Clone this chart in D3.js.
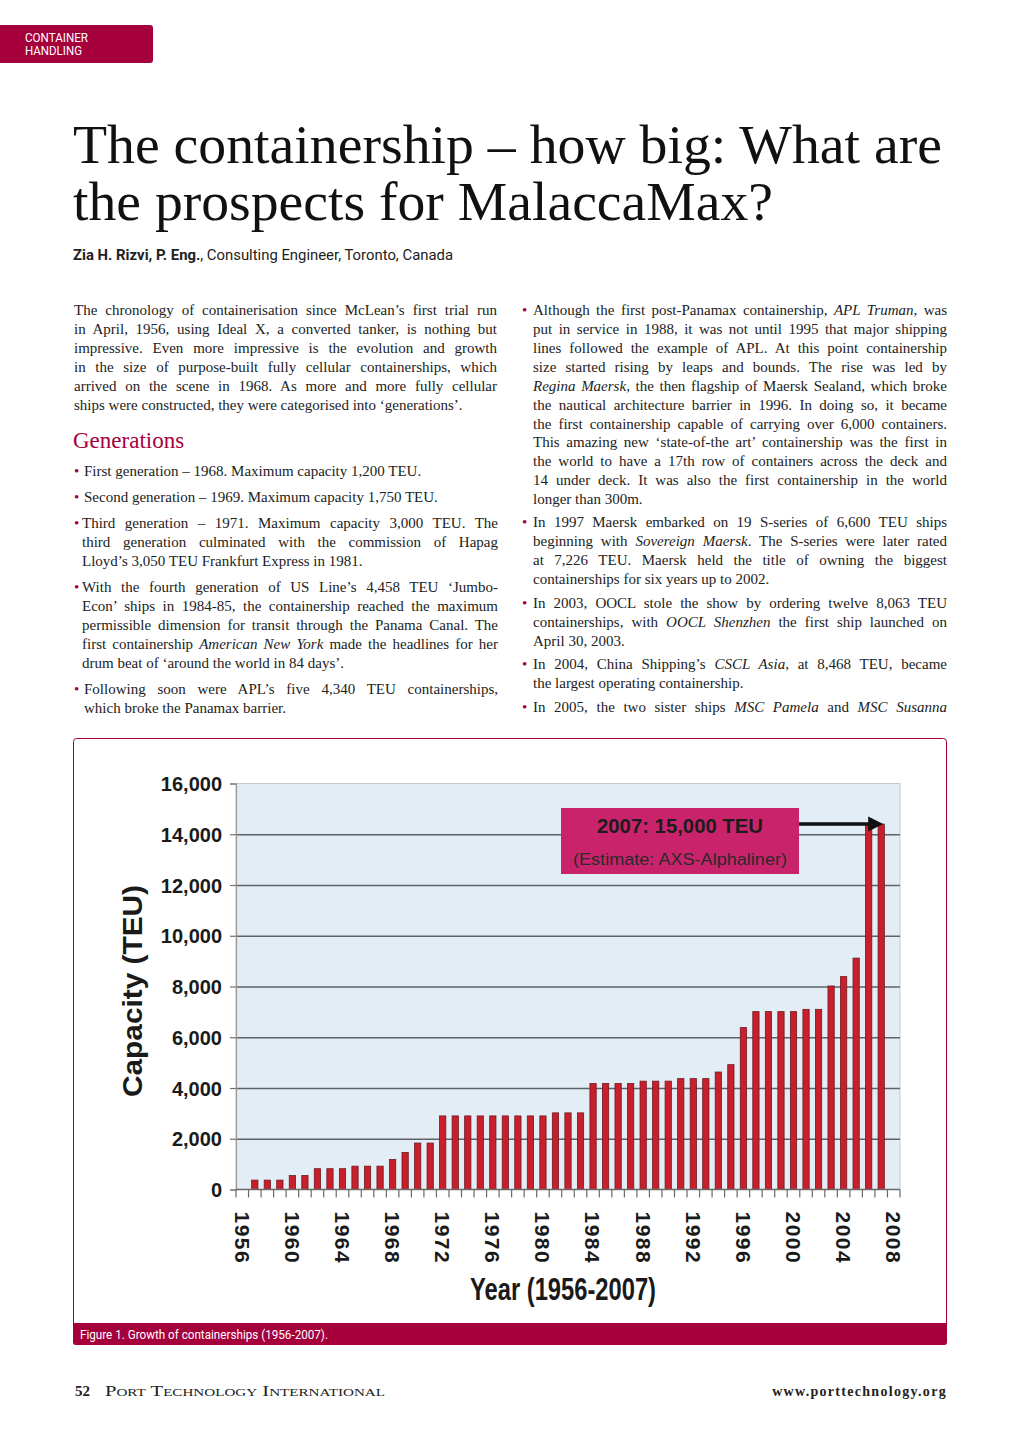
<!DOCTYPE html>
<html lang="en">
    <head>
        <meta charset="utf-8">
        <title>Growth of containerships</title>
        <script src="https://cdn.jsdelivr.net/npm/d3@7/dist/d3.min.js"></script>
        <style>
            body { margin: 0; background: #fff; }
        </style>
    </head>

    <body>
        <script type="text/javascript">

            // chart data (1956 and 2008 have no bar)
            var years = d3.range(1956, 2009);
            var capacity = [null,
                370, 370, 370, 550, 550, 820, 820, 820, 920, 920, 920,
                1180, 1460, 1830, 1830,
                2900, 2900, 2900, 2900, 2900, 2900, 2900, 2900, 2900,
                3020, 3020, 3020,
                4180, 4180, 4180, 4180, 4270, 4270, 4270, 4370, 4370, 4370,
                4630, 4920, 6380, 7010, 7010, 7010, 7010, 7100, 7100,
                8020, 8390, 9120, 14400, 14400,
                null];
            var yTicks = [0, 2000, 4000, 6000, 8000, 10000, 12000, 14000, 16000];
            var xLabelYears = [1956, 1960, 1964, 1968, 1972, 1976, 1980, 1984, 1988, 1992, 1996, 2000, 2004, 2008];
            var noteTitle = "2007: 15,000 TEU";
            var noteSub = "(Estimate: AXS-Alphaliner)";
            var noteYear = 2007;

            var crimson = "#a5003c";
            var serif = "'Liberation Serif', 'DejaVu Serif', serif";
            var arial = "'Liberation Sans', Arial, sans-serif";
            var narrow = "'Liberation Sans Narrow', 'Roboto', 'Liberation Sans', sans-serif";

            var width = 1020;
            var height = 1442;

            var svg = d3.select("body")
                .append("svg")
                .attr("width", width)
                .attr("height", height);

            // ---- page header ----
            svg.append("path")
                .attr("d", "M0,25 H150 Q153,25 153,28 V60 Q153,63 150,63 H0 Z")
                .attr("fill", crimson);
            svg.append("text").attr("x", 25).attr("y", 42)
                .attr("fill", "white").attr("font-family", narrow).style("font-size", "12px")
                .attr("textLength", 63).attr("lengthAdjust", "spacingAndGlyphs")
                .text("CONTAINER");
            svg.append("text").attr("x", 25).attr("y", 55)
                .attr("fill", "white").attr("font-family", narrow).style("font-size", "12px")
                .attr("textLength", 57).attr("lengthAdjust", "spacingAndGlyphs")
                .text("HANDLING");

            svg.append("text").attr("x", 73).attr("y", 163)
                .attr("font-family", serif).style("font-size", "55px").attr("fill", "#111")
                .attr("textLength", 869).attr("lengthAdjust", "spacingAndGlyphs")
                .text("The containership \u2013 how big: What are");
            svg.append("text").attr("x", 73).attr("y", 220)
                .attr("font-family", serif).style("font-size", "55px").attr("fill", "#111")
                .attr("textLength", 700).attr("lengthAdjust", "spacingAndGlyphs")
                .text("the prospects for MalaccaMax?");

            var byline = svg.append("text").attr("x", 73).attr("y", 260)
                .attr("font-family", narrow).style("font-size", "15px").attr("fill", "#222")
                .attr("textLength", 380).attr("lengthAdjust", "spacingAndGlyphs");
            byline.append("tspan").attr("font-weight", "bold").text("Zia H. Rizvi, P. Eng.");
            byline.append("tspan").text(", Consulting Engineer, Toronto, Canada");

            // ---- body text ----
            // [x, baselineY, width (0 = not justified), text with *italic* parts, bullet x]
            var leftLines = [
                [74, 315, 423, "The chronology of containerisation since McLean\u2019s first trial run"],
                [74, 334, 423, "in April, 1956, using Ideal X, a converted tanker, is nothing but"],
                [74, 353, 423, "impressive. Even more impressive is the evolution and growth"],
                [74, 372, 423, "in the size of purpose-built fully cellular containerships, which"],
                [74, 391, 423, "arrived on the scene in 1968. As more and more fully cellular"],
                [74, 410, 0, "ships were constructed, they were categorised into \u2018generations\u2019."],
                [84, 476, 0, "First generation \u2013 1968. Maximum capacity 1,200 TEU.", 74],
                [84, 502, 0, "Second generation \u2013 1969. Maximum capacity 1,750 TEU.", 74],
                [82, 528, 416, "Third generation \u2013 1971. Maximum capacity 3,000 TEU. The", 74],
                [82, 547, 416, "third generation culminated with the commission of Hapag"],
                [82, 566, 0, "Lloyd\u2019s 3,050 TEU Frankfurt Express in 1981."],
                [82, 592, 416, "With the fourth generation of US Line\u2019s 4,458 TEU \u2018Jumbo-", 74],
                [82, 611, 416, "Econ\u2019 ships in 1984-85, the containership reached the maximum"],
                [82, 630, 416, "permissible dimension for transit through the Panama Canal. The"],
                [82, 649, 416, "first containership *American New York* made the headlines for her"],
                [82, 668, 0, "drum beat of \u2018around the world in 84 days\u2019."],
                [84, 694, 414, "Following soon were APL\u2019s five 4,340 TEU containerships,", 74],
                [84, 713, 0, "which broke the Panamax barrier."]
            ];
            var rightLines = [
                [533, 315, 414, "Although the first post-Panamax containership, *APL Truman*, was", 522],
                [533, 334, 414, "put in service in 1988, it was not until 1995 that major shipping"],
                [533, 353, 414, "lines followed the example of APL. At this point containership"],
                [533, 372, 414, "size started rising by leaps and bounds. The rise was led by"],
                [533, 391, 414, "*Regina Maersk*, the then flagship of Maersk Sealand, which broke"],
                [533, 410, 414, "the nautical architecture barrier in 1996. In doing so, it became"],
                [533, 429, 414, "the first containership capable of carrying over 6,000 containers."],
                [533, 447, 414, "This amazing new \u2018state-of-the art\u2019 containership was the first in"],
                [533, 466, 414, "the world to have a 17th row of containers across the deck and"],
                [533, 485, 414, "14 under deck. It was also the first containership in the world"],
                [533, 504, 0, "longer than 300m."],
                [533, 527, 414, "In 1997 Maersk embarked on 19 S-series of 6,600 TEU ships", 522],
                [533, 546, 414, "beginning with *Sovereign Maersk*. The S-series were later rated"],
                [533, 565, 414, "at 7,226 TEU. Maersk held the title of owning the biggest"],
                [533, 584, 0, "containerships for six years up to 2002."],
                [533, 608, 414, "In 2003, OOCL stole the show by ordering twelve 8,063 TEU", 522],
                [533, 627, 414, "containerships, with *OOCL Shenzhen* the first ship launched on"],
                [533, 646, 0, "April 30, 2003."],
                [533, 669, 414, "In 2004, China Shipping\u2019s *CSCL Asia*, at 8,468 TEU, became", 522],
                [533, 688, 0, "the largest operating containership."],
                [533, 712, 414, "In 2005, the two sister ships *MSC Pamela* and *MSC Susanna*", 522]
            ];

            function drawLine(l){
                var t = svg.append("text")
                    .attr("x", l[0])
                    .attr("y", l[1])
                    .attr("font-family", serif)
                    .attr("fill", "#222")
                    .style("font-size", "15px");
                l[3].split("*").forEach(function(part, i){
                    if(part.length == 0) return;
                    t.append("tspan").attr("font-style", i % 2 ? "italic" : "normal").text(part);
                });
                if(l[2] > 0){
                    // justify by widening the word gaps
                    var natural = t.node().getComputedTextLength();
                    var gaps = l[3].split(" ").length - 1;
                    if(gaps > 0 && natural < l[2]){
                        t.style("word-spacing", ((l[2] - natural) / gaps) + "px");
                    }
                }
                if(l[4] !== undefined){
                    svg.append("text").attr("x", l[4]).attr("y", l[1])
                        .attr("font-family", serif).attr("fill", crimson)
                        .style("font-size", "15px").text("\u2022");
                }
            }
            leftLines.forEach(drawLine);
            rightLines.forEach(drawLine);

            svg.append("text").attr("x", 73).attr("y", 448)
                .attr("font-family", serif).attr("fill", crimson)
                .style("font-size", "23px")
                .text("Generations");

            // ---- figure frame ----
            svg.append("rect")
                .attr("x", 73.5).attr("y", 738.5)
                .attr("width", 873).attr("height", 606)
                .attr("rx", 3)
                .attr("fill", "white")
                .attr("stroke", crimson)
                .attr("stroke-width", 1);
            svg.append("path")
                .attr("d", "M73,1323 H947 V1342 Q947,1345 944,1345 H76 Q73,1345 73,1342 Z")
                .attr("fill", crimson);
            svg.append("text").attr("x", 80).attr("y", 1339)
                .attr("fill", "white").attr("font-family", narrow).style("font-size", "13px")
                .attr("textLength", 248).attr("lengthAdjust", "spacingAndGlyphs")
                .text("Figure 1. Growth of containerships (1956-2007).");

            // ---- chart ----
            var plot = {left: 236, right: 900, top: 783.5, bottom: 1189.5};

            var x = d3.scaleBand()
                .domain(years)
                .range([plot.left, plot.right])
                .paddingInner(0.5)
                .paddingOuter(0.25);

            var y = d3.scaleLinear()
                .domain([0, 16000])
                .range([plot.bottom, plot.top]);

            var chart = svg.append("g");

            chart.append("rect")
                .attr("x", plot.left).attr("y", plot.top)
                .attr("width", plot.right - plot.left)
                .attr("height", plot.bottom - plot.top)
                .attr("fill", "#e3edf5")
                .attr("stroke", "#c4c9cf")
                .attr("stroke-width", 1);

            // gridlines
            chart.append("g")
                .attr("transform", "translate(" + plot.left + ",0)")
                .call(d3.axisLeft(y).tickValues(yTicks.slice(1, -1)).tickSize(-(plot.right - plot.left)).tickFormat(""))
                .call(function(g){ g.select(".domain").remove(); })
                .selectAll("line")
                .attr("stroke", "#5f6266")
                .attr("stroke-width", 1.6);

            // y axis
            var yAxis = chart.append("g")
                .attr("transform", "translate(" + plot.left + ",0)")
                .call(d3.axisLeft(y).tickValues(yTicks).tickSize(6).tickPadding(8).tickFormat(d3.format(",")));
            yAxis.select(".domain").attr("stroke", "#9a9a9a").attr("stroke-width", 1.2);
            yAxis.selectAll("line").attr("stroke", "#707070").attr("stroke-width", 1.2);
            yAxis.selectAll("text")
                .attr("font-family", arial)
                .attr("font-weight", "bold")
                .attr("fill", "#1a1a1a")
                .style("font-size", "20px")
                .attr("dy", "0.36em");

            // bars
            var barData = years.map(function(yr, i){ return {year: yr, value: capacity[i]}; })
                .filter(function(d){ return d.value != null; });

            chart.selectAll(".bar")
                .data(barData)
                .enter()
                .append("rect")
                .attr("class", "bar")
                .attr("x", function(d){ return x(d.year); })
                .attr("y", function(d){ return y(d.value); })
                .attr("width", x.bandwidth())
                .attr("height", function(d){ return y(0) - y(d.value); })
                .attr("fill", "#c91f2c")
                .attr("stroke", "#6e1a1f")
                .attr("stroke-width", 0.8);

            // x axis line and category ticks between years
            chart.append("line")
                .attr("x1", plot.left).attr("x2", plot.right)
                .attr("y1", y(0)).attr("y2", y(0))
                .attr("stroke", "#6a6a6a").attr("stroke-width", 1.6);

            chart.selectAll(".xtick")
                .data(years.concat([null]))
                .enter()
                .append("line")
                .attr("class", "xtick")
                .attr("x1", function(d, i){ return plot.left + i * x.step(); })
                .attr("x2", function(d, i){ return plot.left + i * x.step(); })
                .attr("y1", y(0))
                .attr("y2", y(0) + 8)
                .attr("stroke", "#6a6a6a")
                .attr("stroke-width", 1.2);

            chart.selectAll(".xlab")
                .data(xLabelYears)
                .enter()
                .append("text")
                .attr("class", "xlab")
                .attr("transform", function(d){
                    return "translate(" + (x(d) + x.bandwidth() / 2) + "," + (y(0) + 22) + ") rotate(90)";
                })
                .attr("dy", "0.36em")
                .attr("font-family", arial)
                .attr("font-weight", "bold")
                .attr("fill", "#1a1a1a")
                .style("font-size", "21px")
                .style("letter-spacing", "1.5px")
                .text(function(d){ return d; });

            chart.append("text")
                .attr("x", 470).attr("y", 1300)
                .attr("font-family", arial)
                .attr("font-weight", "bold")
                .attr("fill", "#1a1a1a")
                .style("font-size", "31px")
                .attr("textLength", 186)
                .attr("lengthAdjust", "spacingAndGlyphs")
                .text("Year (1956-2007)");

            chart.append("text")
                .attr("transform", "translate(142,1097) rotate(-90)")
                .attr("font-family", arial)
                .attr("font-weight", "bold")
                .attr("fill", "#1a1a1a")
                .style("font-size", "28px")
                .attr("textLength", 212)
                .attr("lengthAdjust", "spacingAndGlyphs")
                .text("Capacity (TEU)");

            // annotation for 2007
            var tipX = x(noteYear) + x.bandwidth() / 2 + 2;
            var tipY = y(capacity[years.indexOf(noteYear)]);

            chart.append("rect")
                .attr("x", 561).attr("y", 808)
                .attr("width", 238).attr("height", 66)
                .attr("fill", "#c9246b");
            chart.append("text")
                .attr("x", 597).attr("y", 833)
                .attr("font-family", arial).attr("font-weight", "bold")
                .attr("fill", "#1c1c1c").style("font-size", "20px")
                .attr("textLength", 166).attr("lengthAdjust", "spacingAndGlyphs")
                .text(noteTitle);
            chart.append("text")
                .attr("x", 573).attr("y", 865)
                .attr("font-family", arial)
                .attr("fill", "#2a2a2a").style("font-size", "17px")
                .attr("textLength", 214).attr("lengthAdjust", "spacingAndGlyphs")
                .text(noteSub);
            chart.append("line")
                .attr("x1", 799).attr("x2", tipX - 13)
                .attr("y1", tipY).attr("y2", tipY)
                .attr("stroke", "#111").attr("stroke-width", 3.5);
            chart.append("path")
                .attr("d", "M" + tipX + "," + tipY + " L" + (tipX - 15) + "," + (tipY - 7.5) + " L" + (tipX - 15) + "," + (tipY + 7.5) + " Z")
                .attr("fill", "#111");

            // ---- footer ----
            svg.append("text").attr("x", 75).attr("y", 1396)
                .attr("font-family", serif).attr("font-weight", "bold")
                .attr("fill", "#222").style("font-size", "15px")
                .text("52");
            svg.append("text").attr("x", 105).attr("y", 1396)
                .attr("font-family", serif)
                .attr("fill", "#222").style("font-size", "15px")
                .style("font-variant", "small-caps")
                .attr("textLength", 280).attr("lengthAdjust", "spacingAndGlyphs")
                .text("Port Technology International");
            svg.append("text").attr("x", 947).attr("y", 1396)
                .attr("text-anchor", "end")
                .attr("font-family", serif).attr("font-weight", "bold")
                .attr("fill", "#222").style("font-size", "14px")
                .style("letter-spacing", "1.3px")
                .text("www.porttechnology.org");
        </script>
    </body>
</html>
